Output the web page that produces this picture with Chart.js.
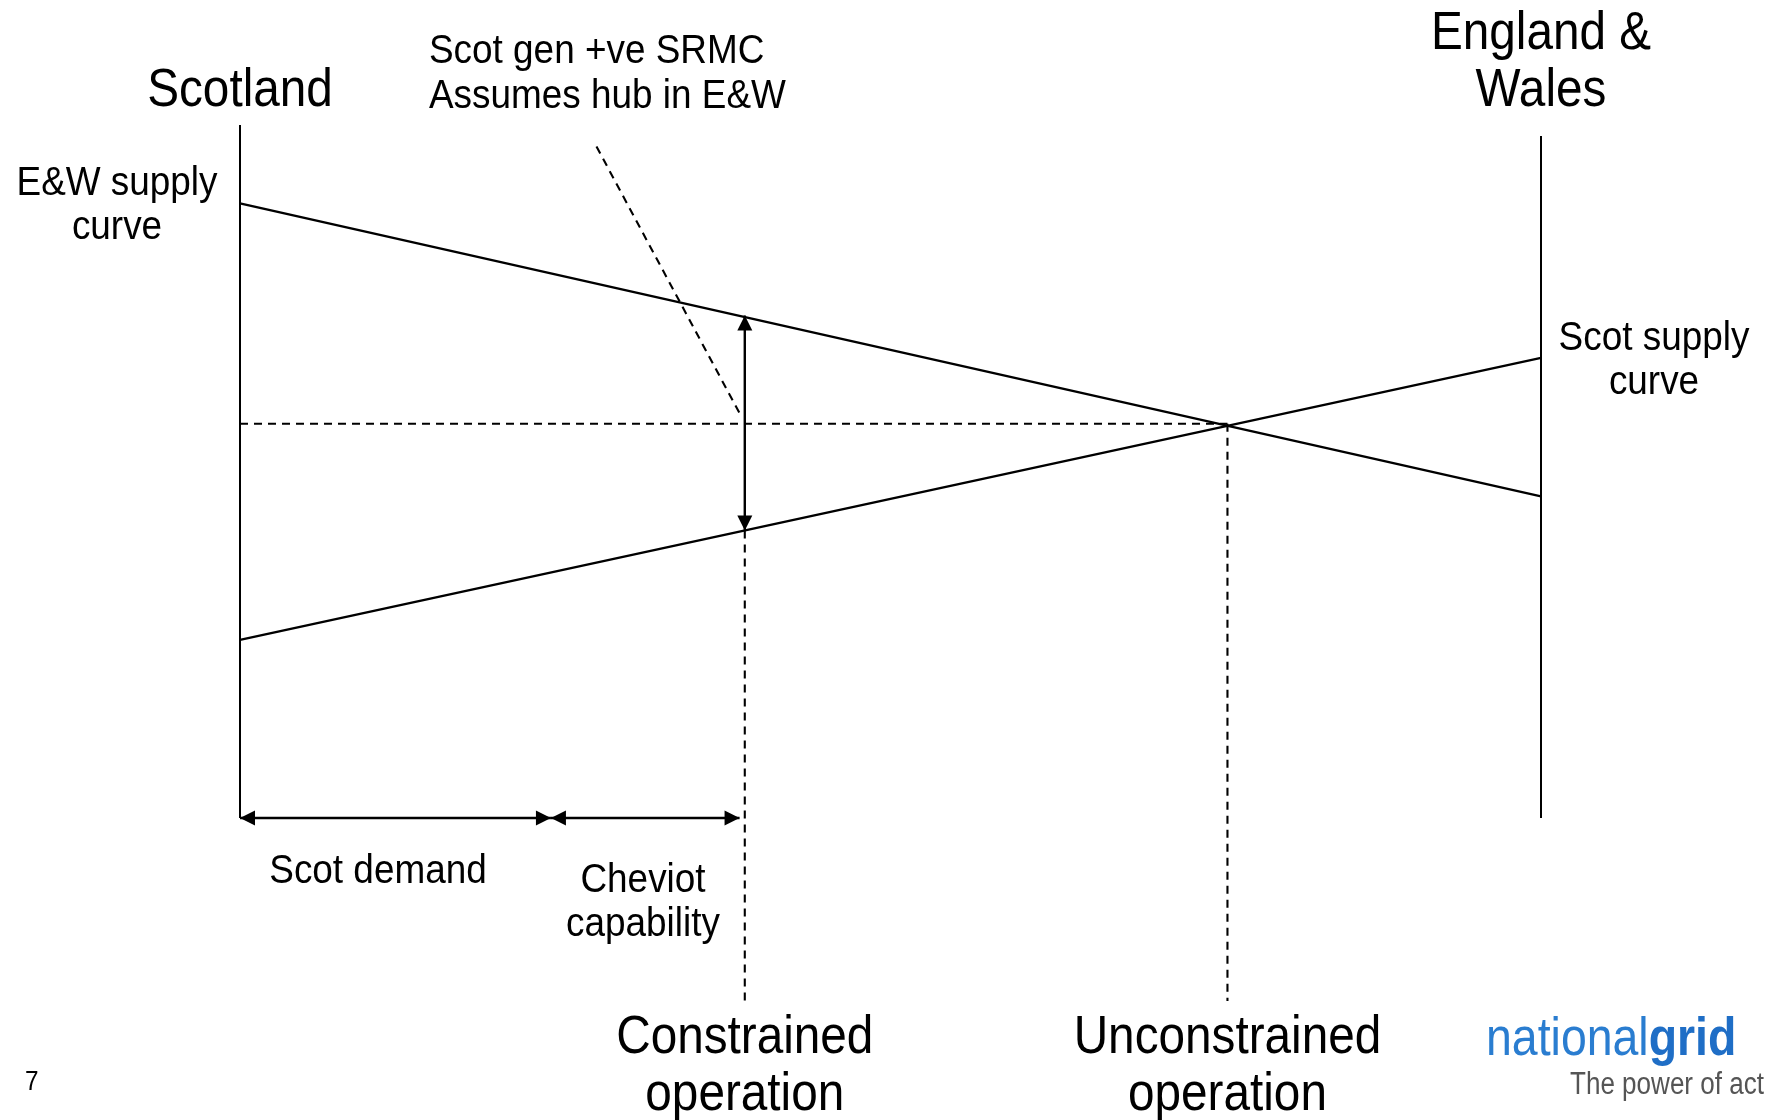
<!DOCTYPE html>
<html>
<head>
<meta charset="utf-8">
<script src="https://cdn.jsdelivr.net/npm/chart.js@4.4.1/dist/chart.umd.min.js"></script>
<style>
  html, body { margin: 0; padding: 0; background: #fff; }
  #wrap { width: 1765px; height: 1120px; }
</style>
</head>
<body>
<div id="wrap"><canvas id="flowChart" width="1765" height="1120"></canvas></div>
<script>
// x: 0 = Scotland end, 100 = England & Wales end ; y: price (0 - 100)
const scotlandAxis = [{ x: 0, y: 0 }, { x: 0, y: 100 }];
const ewAxis = [{ x: 100, y: 0 }, { x: 100, y: 98.4 }];
const ewSupplyCurve = [{ x: 0, y: 88.7 }, { x: 100, y: 46.4 }];
const scotSupplyCurve = [{ x: 0, y: 25.7 }, { x: 100, y: 66.4 }];
const srmcLine = [{ x: 27.4, y: 96.9 }, { x: 38.4, y: 58.4 }];
const equilibrium = { x: 75.9, y: 56.9 };
const constrainedX = 38.8;
const constrainedPrices = [72.5, 41.5]; // E&W curve, Scot curve
const dashBottom = -26.4;
const scotDemand = [0, 23.9];
const cheviotCapability = [23.9, 38.4];

const FONT = "'Liberation Sans', Arial, Helvetica, sans-serif";

function solid(data, extra) {
  return Object.assign({
    data: data,
    showLine: true,
    borderColor: "#000",
    borderWidth: 2.4,
    pointRadius: 0,
    pointHoverRadius: 0,
    clip: false,
  }, extra || {});
}
function dashed(data) {
  return solid(data, { borderDash: [8, 6], borderWidth: 2.1 });
}

const datasets = [
  solid(scotlandAxis, { borderWidth: 2 }),
  solid(ewAxis, { borderWidth: 2 }),
  solid(ewSupplyCurve),
  solid(scotSupplyCurve),
  dashed(srmcLine),
  dashed([{ x: 0, y: equilibrium.y }, { x: equilibrium.x, y: equilibrium.y }]),
  dashed([{ x: equilibrium.x, y: equilibrium.y }, { x: equilibrium.x, y: dashBottom }]),
  dashed([{ x: constrainedX, y: constrainedPrices[1] }, { x: constrainedX, y: dashBottom }]),
  solid([{ x: constrainedX, y: constrainedPrices[0] }, { x: constrainedX, y: constrainedPrices[1] }], { arrows: true }),
  solid([{ x: scotDemand[0], y: 0 }, { x: scotDemand[1], y: 0 }], { arrows: true }),
  solid([{ x: cheviotCapability[0], y: 0 }, { x: cheviotCapability[1], y: 0 }], { arrows: true }),
];

// arrow heads on both ends of the marked datasets
const arrowPlugin = {
  id: "arrowHeads",
  afterDatasetsDraw(chart) {
    const ctx = chart.ctx;
    chart.data.datasets.forEach((ds, i) => {
      if (!ds.arrows) return;
      const pts = chart.getDatasetMeta(i).data;
      const a = pts[0], b = pts[pts.length - 1];
      [[a, b], [b, a]].forEach(([tip, from]) => {
        const ang = Math.atan2(tip.y - from.y, tip.x - from.x);
        const len = 15, half = 7.5;
        ctx.save();
        ctx.translate(tip.x, tip.y);
        ctx.rotate(ang);
        ctx.beginPath();
        ctx.moveTo(0, 0);
        ctx.lineTo(-len, -half);
        ctx.lineTo(-len, half);
        ctx.closePath();
        ctx.fillStyle = "#000";
        ctx.fill();
        ctx.restore();
      });
    });
  }
};

function drawText(ctx, text, x, y, size, opts) {
  opts = opts || {};
  const sx = opts.sx || 0.9;
  ctx.save();
  ctx.translate(x, y);
  ctx.scale(sx, 1);
  ctx.font = (opts.bold ? "bold " : "") + size + "px " + FONT;
  ctx.textAlign = opts.align || "center";
  ctx.textBaseline = "alphabetic";
  ctx.fillStyle = opts.color || "#000";
  ctx.fillText(text, 0, 0);
  const w = ctx.measureText(text).width * sx;
  ctx.restore();
  return w;
}

const textPlugin = {
  id: "annotations",
  afterDraw(chart) {
    const ctx = chart.ctx;
    const xs = chart.scales.x;
    const cx = xs.getPixelForValue(constrainedX);
    const ux = xs.getPixelForValue(equilibrium.x);
    const left = xs.getPixelForValue(0);
    const right = xs.getPixelForValue(100);

    drawText(ctx, "Scotland", left, 106, 53);
    drawText(ctx, "England &", right, 49, 53);
    drawText(ctx, "Wales", right, 106, 53);

    drawText(ctx, "Scot gen +ve SRMC", 429, 63, 41, { align: "left" });
    drawText(ctx, "Assumes hub in E&W", 429, 108, 41, { align: "left" });

    drawText(ctx, "E&W supply", 117, 195, 41);
    drawText(ctx, "curve", 117, 239, 41);
    drawText(ctx, "Scot supply", 1654, 350, 41);
    drawText(ctx, "curve", 1654, 394, 41);

    drawText(ctx, "Scot demand", 378, 883, 41);
    drawText(ctx, "Cheviot", 643, 892, 41);
    drawText(ctx, "capability", 643, 936, 41);

    drawText(ctx, "Constrained", cx, 1053, 53);
    drawText(ctx, "operation", cx, 1110, 53);
    drawText(ctx, "Unconstrained", ux, 1053, 53);
    drawText(ctx, "operation", ux, 1110, 53);

    drawText(ctx, "7", 25, 1090, 27, { align: "left" });

    // logo
    const w = drawText(ctx, "national", 1486, 1055, 54, { align: "left", color: "#2a7dd0", sx: 0.86 });
    drawText(ctx, "grid", 1486 + w, 1055, 54, { align: "left", bold: true, color: "#1f6ec6", sx: 0.86 });
    drawText(ctx, "The power of action", 1570, 1094, 31, { align: "left", color: "#555", sx: 0.84 });
  }
};

new Chart(document.getElementById("flowChart").getContext("2d"), {
  type: "scatter",
  data: { datasets: datasets },
  options: {
    responsive: false,
    animation: false,
    devicePixelRatio: 1,
    layout: { padding: { left: 240, right: 224, top: 125, bottom: 302 } },
    scales: {
      x: { type: "linear", min: 0, max: 100, display: false },
      y: { type: "linear", min: 0, max: 100, display: false },
    },
    plugins: {
      legend: { display: false },
      tooltip: { enabled: false },
    },
    events: [],
  },
  plugins: [arrowPlugin, textPlugin],
});
</script>
</body>
</html>
